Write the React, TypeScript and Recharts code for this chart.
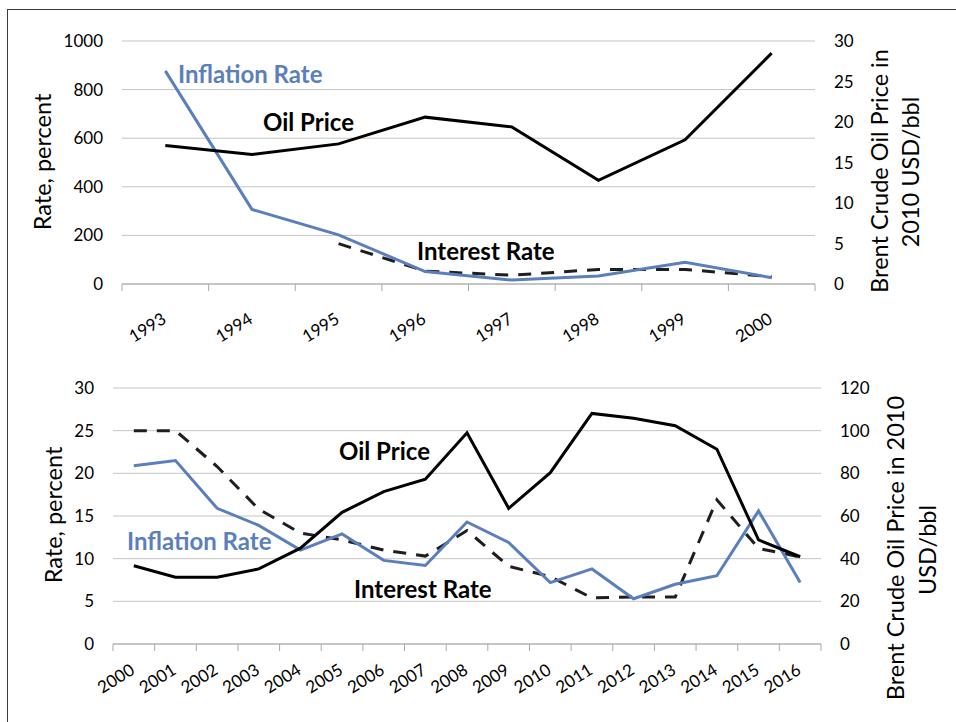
import { LineChart, Line, XAxis, YAxis, CartesianGrid } from "recharts";

const FONT = "Lato, 'Open Sans', sans-serif";
const BLUE = "#5b7fbb";
const GRID = "#c4c4c4";
const AXIS = "#a9a9a9";

// 1993-2000 panel
const topYears = ["1993", "1994", "1995", "1996", "1997", "1998", "1999", "2000"];
const topInflation = [877, 307, 202, 51, 16, 33, 89, 26];
const topInterest = [null, null, 166, 53, 36, 60, 60, 30];
const topOil = [17.1, 16.0, 17.3, 20.6, 19.4, 12.8, 17.8, 28.5];
const topLeftTicks = [0, 200, 400, 600, 800, 1000];
const topRightTicks = [0, 5, 10, 15, 20, 25, 30];

// 2000-2016 panel
const bottomYears = [
  "2000", "2001", "2002", "2003", "2004", "2005", "2006", "2007", "2008",
  "2009", "2010", "2011", "2012", "2013", "2014", "2015", "2016",
];
const bottomInflation = [20.9, 21.5, 15.9, 13.9, 11.0, 12.9, 9.8, 9.2, 14.3, 11.9, 7.2, 8.8, 5.3, 7.0, 8.0, 15.6, 7.2];
const bottomInterest = [25, 25, 20.8, 15.8, 13.0, 12.2, 11.0, 10.3, 13.3, 9.1, 7.9, 5.4, 5.5, 5.5, 16.9, 11.2, 10.2];
const bottomOil = [36.7, 31.3, 31.3, 35.2, 44.9, 61.7, 71.4, 77.2, 99.0, 63.6, 80.3, 108.1, 105.8, 102.3, 91.3, 48.8, 40.9];
const bottomLeftTicks = [0, 5, 10, 15, 20, 25, 30];
const bottomRightTicks = [0, 20, 40, 60, 80, 100, 120];

const topData = topYears.map((year, i) => ({
  year,
  inflation: topInflation[i],
  interest: topInterest[i],
  oil: topOil[i],
}));

const bottomData = bottomYears.map((year, i) => ({
  year,
  inflation: bottomInflation[i],
  interest: bottomInterest[i],
  oil: bottomOil[i],
}));

// category tick: label rotated, tick marks on the band edges (Excel style)
function makeTick(band: number, count: number, dy: number) {
  return (props: any) => {
    const { x, y, payload, index } = props;
    return (
      <g>
        <line x1={x - band / 2} x2={x - band / 2} y1={y} y2={y + 7} stroke={AXIS} />
        {index === count - 1 && (
          <line x1={x + band / 2} x2={x + band / 2} y1={y} y2={y + 7} stroke={AXIS} />
        )}
        <text
          transform={`translate(${x + 2},${y + dy}) rotate(-32)`}
          textAnchor="end"
          fontSize={17}
          fontFamily={FONT}
          fill="#000"
        >
          {payload.value}
        </text>
      </g>
    );
  };
}

const yTick = { fill: "#000", fontSize: 17, fontFamily: FONT };

interface PanelProps {
  data: any[];
  leftTicks: number[];
  rightTicks: number[];
  plotLeft: number;
  plotRight: number;
  plotTop: number;
  plotBottom: number;
  height: number;
  tickDy: number;
}

function Panel({ data, leftTicks, rightTicks, plotLeft, plotRight, plotTop, plotBottom, height, tickDy }: PanelProps) {
  const band = (plotRight - plotLeft) / data.length;
  const yw = 60;
  const xh = 50;
  return (
    <LineChart
      width={956}
      height={height}
      data={data}
      margin={{
        top: plotTop,
        left: plotLeft - yw,
        right: 956 - plotRight - yw,
        bottom: height - plotBottom - xh,
      }}
    >
      <CartesianGrid yAxisId="left" vertical={false} stroke={GRID} />
      <XAxis
        dataKey="year"
        height={xh}
        interval={0}
        padding={{ left: band / 2, right: band / 2 }}
        axisLine={{ stroke: AXIS }}
        tickLine={false}
        tickSize={0}
        tickMargin={0}
        tick={makeTick(band, data.length, tickDy)}
      />
      <YAxis
        yAxisId="left"
        width={yw}
        domain={[leftTicks[0], leftTicks[leftTicks.length - 1]]}
        ticks={leftTicks}
        axisLine={false}
        tickLine={false}
        tickSize={0}
        tickMargin={19}
        tick={yTick}
      />
      <YAxis
        yAxisId="right"
        orientation="right"
        width={yw}
        domain={[rightTicks[0], rightTicks[rightTicks.length - 1]]}
        ticks={rightTicks}
        axisLine={false}
        tickLine={false}
        tickSize={0}
        tickMargin={19}
        tick={{ ...yTick, textAnchor: "start" }}
      />
      <Line yAxisId="left" dataKey="interest" stroke="#1e1e1e" strokeWidth={3} strokeDasharray="13 10" dot={false} isAnimationActive={false} />
      <Line yAxisId="left" dataKey="inflation" stroke={BLUE} strokeWidth={3} dot={false} isAnimationActive={false} />
      <Line yAxisId="right" dataKey="oil" stroke="#000" strokeWidth={3} dot={false} isAnimationActive={false} />
    </LineChart>
  );
}

function VText({ x, y, children }: { x: number; y: number; children: string }) {
  return (
    <text
      x={x}
      y={y}
      transform={`rotate(-90 ${x} ${y})`}
      textAnchor="middle"
      dominantBaseline="central"
      fontSize={23.5}
      fontFamily={FONT}
      fill="#000"
    >
      {children}
    </text>
  );
}

function Note({ x, y, color, children }: { x: number; y: number; color: string; children: string }) {
  return (
    <text x={x} y={y} dominantBaseline="central" fontSize={24} fontWeight={700} fontFamily={FONT} fill={color}>
      {children}
    </text>
  );
}

export default function App() {
  return (
    <div style={{ position: "absolute", left: 0, top: 0, width: 956, height: 722, overflow: "hidden", background: "#fff" }}>
      <div style={{ position: "absolute", left: 7, top: 9, width: 1000, height: 800, border: "1.5px solid #3a3a3a" }} />
      <div style={{ position: "absolute", left: 0, top: 0 }}>
        <Panel
          data={topData}
          leftTicks={topLeftTicks}
          rightTicks={topRightTicks}
          plotLeft={122}
          plotRight={815}
          plotTop={41}
          plotBottom={284}
          height={360}
          tickDy={38}
        />
      </div>
      <div style={{ position: "absolute", left: 0, top: 360 }}>
        <Panel
          data={bottomData}
          leftTicks={bottomLeftTicks}
          rightTicks={bottomRightTicks}
          plotLeft={113}
          plotRight={821}
          plotTop={28}
          plotBottom={284}
          height={362}
          tickDy={29}
        />
      </div>
      <svg width={956} height={722} style={{ position: "absolute", left: 0, top: 0, pointerEvents: "none" }}>
        <VText x={42} y={162}>Rate, percent</VText>
        <VText x={879} y={171}>Brent Crude Oil Price in</VText>
        <VText x={910} y={172}>2010 USD/bbl</VText>
        <Note x={178} y={73} color={BLUE}>Inflation Rate</Note>
        <Note x={263} y={121} color="#000">Oil Price</Note>
        <Note x={417} y={250} color="#000">Interest Rate</Note>

        <VText x={53} y={515}>Rate, percent</VText>
        <VText x={895} y={548}>Brent Crude Oil Price in 2010</VText>
        <VText x={927} y={550}>USD/bbl</VText>
        <Note x={339} y={450} color="#000">Oil Price</Note>
        <Note x={127} y={540} color={BLUE}>Inflation Rate</Note>
        <Note x={354} y={588} color="#000">Interest Rate</Note>
      </svg>
    </div>
  );
}
